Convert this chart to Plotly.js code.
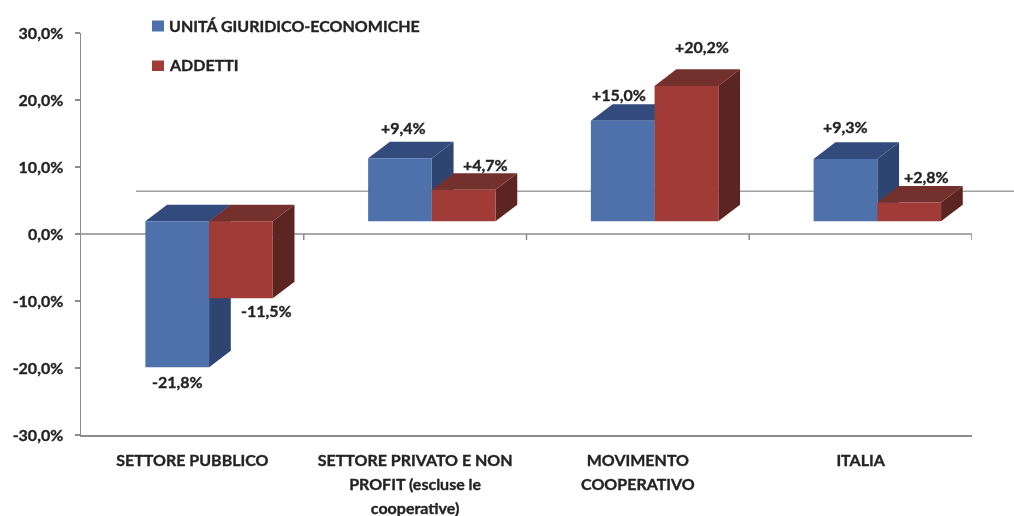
<!DOCTYPE html>
<html>
<head>
<meta charset="utf-8">
<script src="https://cdn.plot.ly/plotly-3.0.1.min.js"></script>
<style>
html,body{margin:0;padding:0;background:#fff;overflow:hidden}
#chart{width:1014px;height:516px;filter:blur(0.45px)}
#chart svg text{stroke:#232323;stroke-width:0.35px}
</style>
</head>
<body>
<div id="chart"></div>
<script>
// Data
const categories = ['SETTORE PUBBLICO', 'SETTORE PRIVATO E NON<br>PROFIT (escluse le<br>cooperative)', 'MOVIMENTO<br>COOPERATIVO', 'ITALIA'];
const unitaValues = [-21.8, 9.4, 15.0, 9.3];
const addettiValues = [-11.5, 4.7, 20.2, 2.8];
const unitaLabels = ['-21,8%', '+9,4%', '+15,0%', '+9,3%'];
const addettiLabels = ['-11,5%', '+4,7%', '+20,2%', '+2,8%'];
const yTickVals = [-30, -20, -10, 0, 10, 20, 30];
const yTickText = ['-30,0%', '-20,0%', '-10,0%', '0,0%', '10,0%', '20,0%', '30,0%'];
const seriesNames = ['UNITÁ GIURIDICO-ECONOMICHE', 'ADDETTI'];

// Styling / projection constants
const FONT = 'Lato, "Open Sans", sans-serif';
const TXT = '#232323', AXIS = '#8c8c8c', WALL = '#a0a0a0';
const BLUE = {front: '#4f71ab', top: '#324a7c', side: '#2f4571'};
const RED = {front: '#a03b37', top: '#73302c', side: '#5c2522'};
const positions = categories.map((_, i) => i);
const BAR_W = 0.286, SHIFT = 0.075;       // bar width and offset from the category centre
const FLOOR = 1.9;                         // front-plane baseline in axis units
const DX = 0.0975, DY = 2.48;              // oblique depth in axis units

function facePath(pts) {
  return 'M' + pts.map(p => p[0] + ',' + p[1]).join('L') + 'Z';
}
function face(pts, color) {
  return {type: 'path', xref: 'x', yref: 'y', layer: 'below', path: facePath(pts), fillcolor: color, line: {width: 0}};
}
function depthFaces(values, offset, col) {
  const out = [];
  values.forEach((v, i) => {
    const x0 = positions[i] + offset, x1 = x0 + BAR_W, end = FLOOR + v;
    const top = Math.max(FLOOR, end), bot = Math.min(FLOOR, end);
    out.push(face([[x1, top], [x1 + DX, top + DY], [x1 + DX, bot + DY], [x1, bot]], col.side));
    out.push(face([[x0, top], [x1, top], [x1 + DX, top + DY], [x0 + DX, top + DY]], col.top));
  });
  return out;
}

const gridLines = [
  {type: 'line', xref: 'paper', yref: 'paper', layer: 'below', x0: 0.0617, x1: 1.05, y0: 0.6065, y1: 0.6065, line: {color: WALL, width: 1.5}},
  {type: 'line', xref: 'x', yref: 'y', layer: 'below', x0: -0.5, x1: 3.5, y0: 0, y1: 0, line: {color: AXIS, width: 1.5}}
].concat([0.5, 1.5, 2.5, 3.5].map(x => ({
  type: 'line', xref: 'x', yref: 'y', layer: 'below', x0: x, x1: x, y0: 0, y1: -0.9, line: {color: AXIS, width: 1.5}
})));

const legendMarks = [BLUE.front, RED.front].map((c, i) => ({
  type: 'rect', xref: 'paper', yref: 'paper', layer: 'above',
  x0: (152 - 81) / 891, x1: (164 - 81) / 891,
  y0: i === 0 ? (435 - 31.5) / 402 : (435 - 71) / 402,
  y1: i === 0 ? (435 - 20.5) / 402 : (435 - 60.5) / 402,
  fillcolor: c, line: {width: 0}
}));

// Value labels: pixel nudges relative to each bar end
const unitaNudge = [[0, -14], [4, 31], [-4, 26], [0, 32]];
const addettiNudge = [[26, -12], [22, 25], [16, 39], [17, 26]];
function valueNotes(values, labels, offset, nudges) {
  return values.map((v, i) => ({
    x: positions[i] + offset + BAR_W / 2, y: FLOOR + v, xref: 'x', yref: 'y',
    text: labels[i], showarrow: false, xshift: nudges[i][0], yshift: nudges[i][1],
    xanchor: 'center', yanchor: 'middle', font: {family: FONT, size: 16, color: TXT, weight: 700}
  }));
}
const legendNotes = seriesNames.map((n, i) => ({
  xref: 'paper', yref: 'paper', x: (167 - 81) / 891, y: (435 - (i === 0 ? 26 : 64)) / 402,
  text: n, showarrow: false, xanchor: 'left', yanchor: 'middle',
  font: {family: FONT, size: 16, color: TXT, weight: 700}
}));

const traces = [
  {type: 'bar', name: seriesNames[0], x: positions, y: unitaValues, base: positions.map(() => FLOOR),
   width: BAR_W, offset: SHIFT - BAR_W, marker: {color: BLUE.front, line: {width: 0}}, hoverinfo: 'skip'},
  {type: 'bar', name: seriesNames[1], x: positions, y: addettiValues, base: positions.map(() => FLOOR),
   width: BAR_W, offset: SHIFT, marker: {color: RED.front, line: {width: 0}}, hoverinfo: 'skip'}
];

const layout = {
  width: 1014, height: 516,
  margin: {l: 81, r: 42, t: 33, b: 81},
  paper_bgcolor: '#ffffff', plot_bgcolor: 'rgba(0,0,0,0)',
  barmode: 'overlay', showlegend: false,
  xaxis: {
    range: [-0.5, 3.5], tickmode: 'array', tickvals: positions, ticktext: categories,
    showgrid: false, zeroline: false, showline: true, linecolor: AXIS, linewidth: 1.5,
    ticks: '', ticklabelstandoff: 10, tickangle: 0,
    tickfont: {family: FONT, size: 16, color: TXT, weight: 700}
  },
  yaxis: {
    range: [-30, 30], tickmode: 'array', tickvals: yTickVals, ticktext: yTickText,
    showgrid: false, zeroline: false, showline: true, linecolor: AXIS, linewidth: 1.5,
    ticks: 'outside', ticklen: 5, tickcolor: AXIS, tickwidth: 1.5, ticklabelstandoff: 8,
    tickfont: {family: FONT, size: 16, color: TXT, weight: 700}
  },
  shapes: gridLines
    .concat(depthFaces(unitaValues, SHIFT - BAR_W, BLUE))
    .concat(depthFaces(addettiValues, SHIFT, RED))
    .concat(legendMarks),
  annotations: valueNotes(unitaValues, unitaLabels, SHIFT - BAR_W, unitaNudge)
    .concat(valueNotes(addettiValues, addettiLabels, SHIFT, addettiNudge))
    .concat(legendNotes)
};

Plotly.newPlot('chart', traces, layout, {displayModeBar: false, staticPlot: true}).then(() => {
  // The reference spaces wrapped category labels more widely than the default line height.
  document.querySelectorAll('.xtick text').forEach(t => {
    t.querySelectorAll('tspan.line').forEach((s, i) => s.setAttribute('dy', (i * 24) + 'px'));
  });
});
</script>
</body>
</html>
